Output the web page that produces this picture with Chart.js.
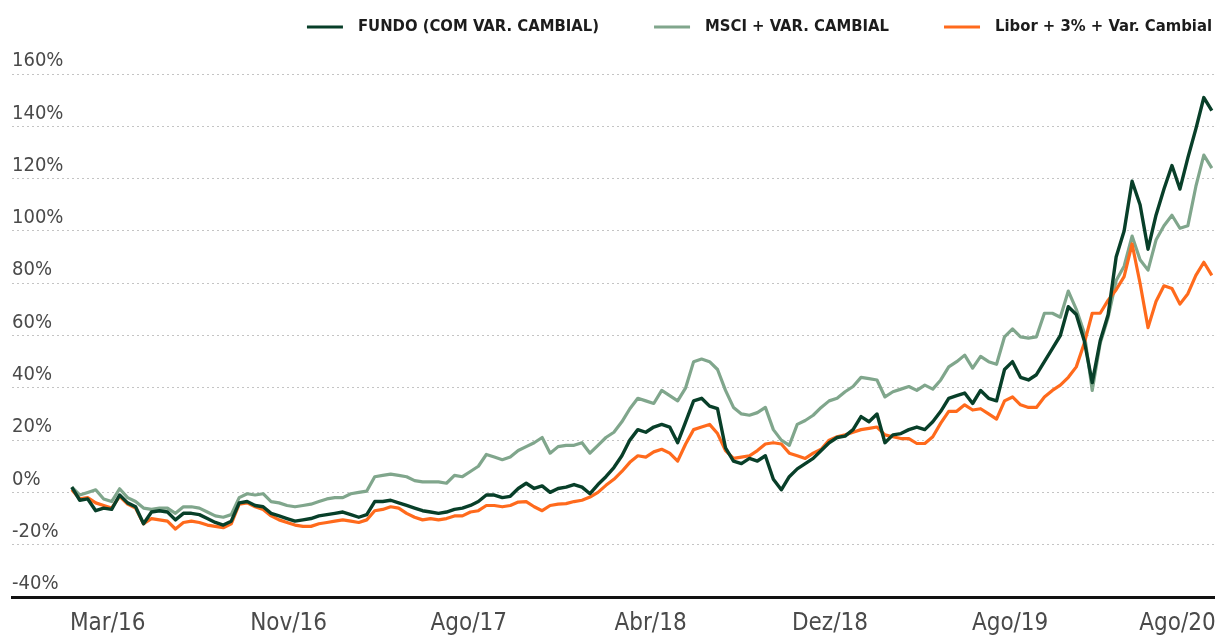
<!DOCTYPE html>
<html>
<head>
<meta charset="utf-8">
<script src="https://cdn.jsdelivr.net/npm/chart.js@4.4.1/dist/chart.umd.min.js"></script>
<style>
  html, body { margin: 0; padding: 0; background: #fff; }
  canvas { display: block; }
</style>
</head>
<body>
<canvas id="myChart" width="1215" height="637"></canvas>
<script>
// tick labels and where they sit along the series (point index)
var tickLabels = ['Mar/16', 'Nov/16', 'Ago/17', 'Abr/18', 'Dez/18', 'Ago/19', 'Ago/20'];
var tickIndex = [4.5, 27.2, 49.8, 72.6, 95.1, 117.7, 138.7];

var fundo = [
  2, -3, -2.5, -7, -6, -6.5, -1, -4, -5.5, -12,
  -7.5, -7, -7.5, -10.5, -8, -8, -8.5, -10, -11.5, -12.5,
  -11, -4, -3.5, -5, -5.5, -8, -9, -10, -11, -10.5,
  -10, -9, -8.5, -8, -7.5, -8.5, -9.5, -8.5, -3.5, -3.5,
  -3, -4, -5, -6, -7, -7.5, -8, -7.5, -6.5, -6,
  -5, -3.5, -1, -1, -2, -1.5, 1.5, 3.5, 1.5, 2.5,
  0, 1.5, 2, 3, 2, -0.5, 3, 6, 9.5, 14,
  20, 24, 23, 25, 26, 25, 19, 27, 35, 36,
  33, 32, 17, 12, 11, 13, 12, 14, 5, 1,
  6, 9, 11, 13, 16, 19, 21, 21.5, 24, 29,
  27, 30, 19, 22, 22.5, 24, 25, 24, 27, 31,
  36, 37, 38, 34, 39, 36, 35, 47, 50, 44,
  43, 45, 50, 55, 60, 71, 68, 58, 42, 58,
  68, 90, 100, 119, 110, 93, 106, 116, 125, 116,
  128, 139, 151, 146
];

var msci = [
  2, -1, 0, 1, -2.5, -3.5, 1.4, -2, -3.5, -6,
  -6.5, -6, -6, -8, -5.5, -5.5, -6, -7.5, -9, -9.5,
  -8.5, -2, -0.5, -1, -0.5, -3.5, -4, -5, -5.5, -5,
  -4.5, -3.5, -2.5, -2, -2, -0.5, 0, 0.5, 6, 6.5,
  7, 6.5, 6, 4.5, 4, 4, 4, 3.5, 6.5, 6,
  8, 10, 14.5, 13.5, 12.5, 13.5, 16, 17.5, 19, 21,
  15, 17.5, 18, 18, 19, 15, 18, 21, 23, 27,
  32, 36, 35, 34, 39, 37, 35, 40, 50, 51,
  50, 47, 39, 32.5, 30, 29.5, 30.5, 32.5, 24, 20,
  18, 26, 27.5, 29.5, 32.5, 35, 36, 38.5, 40.5, 44,
  43.5, 43, 36.5, 38.5, 39.5, 40.5, 39, 41, 39.5, 43,
  48, 50, 52.5, 47.5, 52, 50, 49, 59.5, 62.5, 59.5,
  59, 59.5, 68.5, 68.5, 67, 77, 70, 61, 39, 57,
  67, 81, 86.5, 98, 89, 85, 96.5, 102, 106, 101,
  102, 117, 129, 124
];

var libor = [
  1, -2.5, -2, -4, -5, -6, -1.5, -4.5, -6, -12,
  -10, -10.5, -11, -14, -11.5, -11, -11.5, -12.5, -13, -13.5,
  -12, -4.5, -4, -5.5, -6.5, -9, -10.5, -11.5, -12.5, -13,
  -13, -12, -11.5, -11, -10.5, -11, -11.5, -10.5, -7, -6.5,
  -5.5, -6, -8, -9.5, -10.5, -10, -10.5, -10, -9, -9,
  -7.5, -7, -5, -5, -5.5, -5, -3.7, -3.5, -5.5, -7,
  -5, -4.5, -4.3, -3.5, -3, -1.8, 0, 2.7, 5, 8,
  11.5, 14, 13.5, 15.5, 16.5, 15, 12, 18.5, 24, 25,
  26, 22.5, 16, 13, 13.5, 14, 16, 18.5, 19, 18.5,
  15, 14, 13, 15, 16.5, 20, 21.3, 22, 23, 24,
  24.5, 25, 22, 21.3, 20.6, 20.6, 18.7, 18.7, 21.3, 26.5,
  31, 31, 33.5, 31.5, 32, 30, 28, 35, 36.5, 33.5,
  32.5, 32.5, 36.5, 39, 41, 44, 48, 57, 68.5, 68.5,
  73.5, 77.5, 82.5, 95, 80, 63, 73, 79, 78, 72,
  76, 83, 88, 83
];

var seriesNames = ['FUNDO (COM VAR. CAMBIAL)', 'MSCI + VAR. CAMBIAL', 'Libor + 3% + Var. Cambial'];
var seriesColors = ['#083f29', '#80a68c', '#ff6a1c'];

function toPoints(arr) {
  return arr.map(function (v, i) { return { x: i, y: v }; });
}

var labelFont = '"Liberation Sans Narrow", "DejaVu Sans Condensed", "Roboto", sans-serif';

// legend drawn as a row of short lines, right aligned
var lineLegend = {
  id: 'lineLegend',
  afterDraw: function (chart) {
    var ctx = chart.ctx;
    var ds = chart.data.datasets;
    ctx.save();
    ctx.font = 'bold 16.5px ' + labelFont;
    ctx.textBaseline = 'middle';
    var y = 27;
    var x = chart.width - 3;
    for (var i = ds.length - 1; i >= 0; i--) {
      var w = ctx.measureText(ds[i].label).width;
      x -= w;
      ctx.fillStyle = '#1c1c1c';
      ctx.fillText(ds[i].label, x, y);
      x -= 15;
      ctx.strokeStyle = ds[i].borderColor;
      ctx.lineWidth = 3;
      ctx.beginPath();
      ctx.moveTo(x - 36, y);
      ctx.lineTo(x, y);
      ctx.stroke();
      x -= 36 + 55;
    }
    ctx.restore();
  }
};

var ctx = document.getElementById('myChart').getContext('2d');
var myChart = new Chart(ctx, {
  type: 'line',
  data: {
    datasets: [
      { label: seriesNames[0], data: toPoints(fundo), borderColor: seriesColors[0], borderWidth: 3.4, order: 0 },
      { label: seriesNames[1], data: toPoints(msci), borderColor: seriesColors[1], borderWidth: 3.2, order: 2 },
      { label: seriesNames[2], data: toPoints(libor), borderColor: seriesColors[2], borderWidth: 3.2, order: 1 }
    ]
  },
  options: {
    responsive: false,
    animation: false,
    devicePixelRatio: 1,
    layout: { padding: { top: 74, left: 12, right: 0, bottom: 0 } },
    elements: {
      point: { radius: 0 },
      line: { tension: 0, borderJoinStyle: 'round', fill: false }
    },
    plugins: {
      legend: { display: false },
      tooltip: { enabled: false }
    },
    scales: {
      x: {
        type: 'linear',
        min: -7.5,
        max: 143.4,
        grid: { display: false, drawTicks: false },
        border: { display: true, color: '#111', width: 3 },
        afterBuildTicks: function (axis) {
          axis.ticks = tickIndex.map(function (v) { return { value: v }; });
        },
        afterFit: function (axis) {
          axis.height = 40;
          axis.paddingLeft = 0;
          axis.paddingRight = 0;
        },
        ticks: {
          autoSkip: false,
          maxRotation: 0,
          padding: 12,
          color: '#4a4a4a',
          font: { family: labelFont, size: 24 },
          callback: function (v) {
            var k = tickIndex.indexOf(v);
            return k >= 0 ? tickLabels[k] : '';
          }
        }
      },
      y: {
        min: -40,
        max: 160,
        grid: {
          drawTicks: false,
          lineWidth: 1,
          color: function (c) { return c.tick && c.tick.value === -40 ? 'rgba(0,0,0,0)' : '#c4c4c4'; }
        },
        border: { display: false, dash: [2, 3] },
        ticks: {
          stepSize: 20,
          mirror: true,
          padding: 0,
          labelOffset: -13,
          color: '#4a4a4a',
          font: { family: labelFont, size: 20 },
          callback: function (v) { return v + '%'; }
        }
      }
    }
  },
  plugins: [lineLegend]
});
</script>
</body>
</html>
